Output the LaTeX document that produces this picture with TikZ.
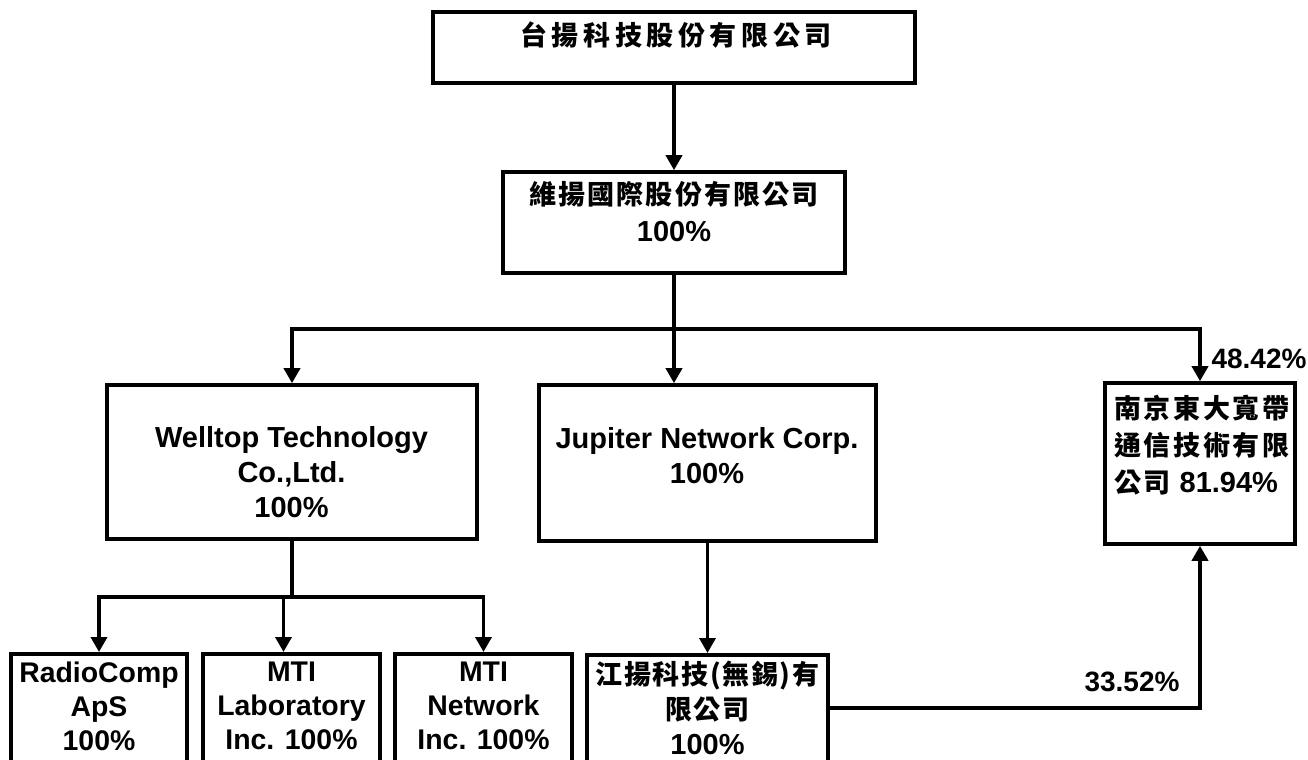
\documentclass[tikz,border=0pt]{standalone}
\usepackage{fontspec}
\setmainfont{Liberation Sans}
\newfontfamily\cjk{Noto Sans CJK TC}
\usetikzlibrary{arrows.meta}

\begin{document}
\begin{tikzpicture}[x=0.5pt,y=-0.5pt,
    box/.style={draw,line width=1.8pt,inner sep=0pt},
    lbl/.style={align=center,font=\fontsize{14.5}{17.5}\selectfont\bfseries},
    zh/.style={align=center,font=\fontsize{13.5}{18.5}\selectfont\cjk\bfseries\addfontfeature{LetterSpace=#1}},
    zh/.default=10,
    link/.style={line width=1.8pt},
    arr/.style={line width=1.8pt,-{Triangle[width=8pt,length=7.5pt]}}]
    \useasboundingbox (0,0) rectangle (1308,760);
    \clip (0,0) rectangle (1308,760);

    \node[box,minimum width=241pt,minimum height=35.5pt] (top) at (674,47.5) {};
    \node[zh=17] (top-t) at (676,35) {台揚科技股份有限公司};

    \node[box,minimum width=171pt,minimum height=50.5pt] (mid) at (674,222.5) {};
    \node[lbl,font=\fontsize{14.5}{18.5}\selectfont\bfseries] (mid-t) at (674,211.5)
      {{\cjk\fontsize{13.5}{18.5}\selectfont\addfontfeature{LetterSpace=8}維揚國際股份有限公司}\\100\%};

    \node[box,minimum width=185pt,minimum height=77pt] (wt) at (292,462) {};
    \node[lbl] (wt-t) at (291.5,472.5) {Welltop Technology\\Co.,Ltd.\\100\%};

    \node[box,minimum width=168.5pt,minimum height=78pt] (jp) at (707.5,463) {};
    \node[lbl] (jp-t) at (707,455.5) {Jupiter Network Corp.\\100\%};

    \node[box,minimum width=95pt,minimum height=80.5pt] (nj) at (1200,463.5) {};
    \node[zh,align=left,anchor=west] (nj-t) at (1107,445)
      {南京東大寬帶\\通信技術有限\\公司\ {\rmfamily\fontsize{14.5}{18.5}\selectfont\bfseries 81.94\%}};

    \node[box,anchor=north,minimum width=88pt,minimum height=70pt] (rc) at (99,652) {};
    \node[lbl,font=\fontsize{14.2}{17}\selectfont\bfseries] (rc-t) at (99,706) {RadioComp\\ApS\\100\%};

    \node[box,anchor=north,minimum width=88.5pt,minimum height=70pt] (lab) at (291.5,652) {};
    \node[lbl,font=\fontsize{14.2}{17}\selectfont\bfseries] (lab-t) at (291.5,706) {MTI\\Laboratory\\Inc. 100\%};

    \node[box,anchor=north,minimum width=88.5pt,minimum height=70pt] (net) at (483.5,652) {};
    \node[lbl,font=\fontsize{14.2}{17}\selectfont\bfseries] (net-t) at (483.5,706) {MTI\\Network\\Inc. 100\%};

    \node[box,anchor=north,minimum width=120.5pt,minimum height=70pt] (jy) at (707.5,653) {};
    \node[zh=6,font=\fontsize{13.5}{17.5}\selectfont\cjk\bfseries\addfontfeature{LetterSpace=6}] (jy-t) at (707.5,708)
      {江揚科技(無錫)有\\限公司\\{\rmfamily\fontsize{14.5}{17.5}\selectfont\bfseries 100\%}};

    \node[lbl,font=\fontsize{14}{17}\selectfont\bfseries] (p-nj) at (1259,359) {48.42\%};
    \node[lbl,font=\fontsize{14}{17}\selectfont\bfseries] (p-jy) at (1132,682) {33.52\%};

    \coordinate (fork) at (674,329);
    \coordinate (split) at (292,597);
    \coordinate (lab-in) at ([xshift=-4pt]lab.north);
    \coordinate (jy-out) at (jy.north east |- 0,708);

    \draw[arr] (top.south) -- (mid.north);
    \draw[link] (mid.south) -- (fork);
    \draw[arr] (fork) -| (wt.north);
    \draw[arr] (fork) -- (fork |- jp.north);
    \draw[arr] (fork) -| (nj.north);
    \draw[link] (wt.south) -- (split);
    \draw[arr] (split) -| (rc.north);
    \draw[arr] (split) -| (net.north);
    \draw[arr] (split -| lab-in) -- (lab-in);
    \draw[arr] (jp.south) -- (jy.north);
    \draw[arr] (jy-out) -| (nj.south);
\end{tikzpicture}
\end{document}
